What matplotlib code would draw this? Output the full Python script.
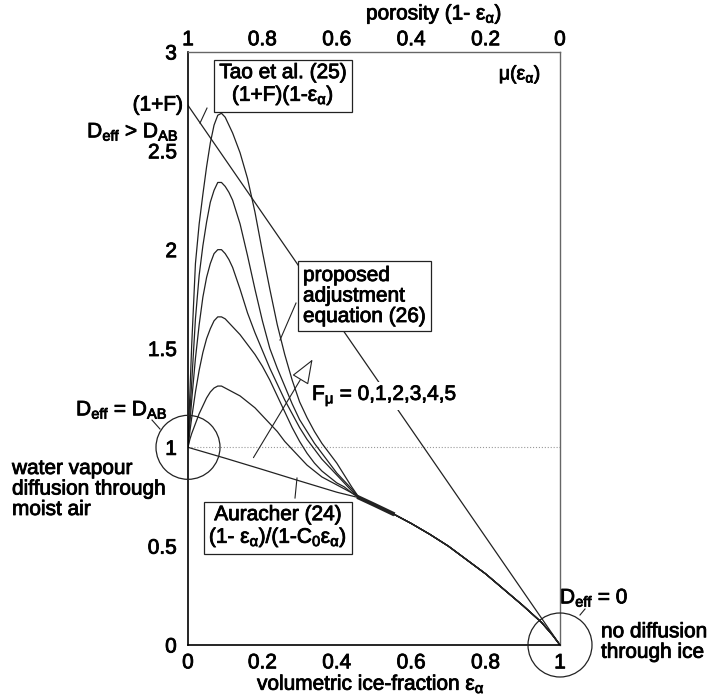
import matplotlib
matplotlib.use("Agg")
import matplotlib.pyplot as plt
import matplotlib.patheffects as pe
from matplotlib.patches import Ellipse

plt.rcParams["font.family"] = ["Liberation Sans", "DejaVu Sans"]
plt.rcParams["mathtext.fontset"] = "custom"
plt.rcParams["mathtext.rm"] = "Liberation Sans"
plt.rcParams["mathtext.it"] = "Liberation Sans:italic"
plt.rcParams["font.size"] = 15

# ice fraction grid for the proposed curves
eps = [0, 0.005, 0.01, 0.02, 0.03, 0.04, 0.05, 0.06, 0.07, 0.08, 0.09, 0.10,
       0.11, 0.12, 0.14, 0.16, 0.18, 0.20, 0.22, 0.24, 0.26, 0.28, 0.30, 0.32,
       0.34, 0.36, 0.38, 0.40, 0.42, 0.44, 0.46]
f1 = [1, 1.04, 1.07, 1.12, 1.17, 1.21, 1.25, 1.28, 1.30, 1.31, 1.31, 1.30,
      1.29, 1.28, 1.26, 1.23, 1.20, 1.16, 1.12, 1.08, 1.03, 0.99, 0.95, 0.91,
      0.88, 0.85, 0.83, 0.81, 0.79, 0.77, 0.745]
f2 = [1, 1.08, 1.15, 1.28, 1.39, 1.48, 1.55, 1.60, 1.64, 1.66, 1.66, 1.65,
      1.63, 1.61, 1.57, 1.52, 1.47, 1.41, 1.34, 1.26, 1.18, 1.10, 1.03, 0.97,
      0.92, 0.88, 0.85, 0.82, 0.80, 0.77, 0.745]
f3 = [1, 1.12, 1.24, 1.45, 1.62, 1.76, 1.86, 1.93, 1.98, 2.00, 2.00, 1.98,
      1.95, 1.91, 1.80, 1.68, 1.58, 1.49, 1.40, 1.32, 1.24, 1.17, 1.10, 1.04,
      0.99, 0.94, 0.90, 0.86, 0.82, 0.78, 0.745]
f4 = [1, 1.17, 1.33, 1.65, 1.87, 2.02, 2.14, 2.24, 2.30, 2.34, 2.34, 2.32,
      2.29, 2.25, 2.13, 1.97, 1.80, 1.64, 1.50, 1.40, 1.31, 1.22, 1.14, 1.08,
      1.02, 0.97, 0.92, 0.87, 0.83, 0.79, 0.745]
f5 = [1, 1.27, 1.52, 1.93, 2.13, 2.28, 2.42, 2.54, 2.63, 2.68, 2.69, 2.67,
      2.63, 2.59, 2.49, 2.36, 2.19, 1.99, 1.80, 1.62, 1.47, 1.34, 1.23, 1.15,
      1.08, 1.02, 0.97, 0.92, 0.86, 0.80, 0.745]

# Auracher (24), F = 0
aur_eps = [0, 0.1, 0.2, 0.3, 0.4, 0.46]
aur_val = [1, 0.945, 0.888, 0.83, 0.773, 0.745]

# common tail of all curves
tail_eps = [0.46, 0.50, 0.55, 0.60, 0.65, 0.70, 0.75, 0.80, 0.85, 0.90, 0.95, 0.98, 1.0]
tail_val = [0.745, 0.71, 0.665, 0.615, 0.56, 0.50, 0.43, 0.36, 0.28, 0.20, 0.115, 0.05, 0.0]

# Tao et al. (25): (1+F)(1-eps)
tao_eps = [0, 1]
tao_val = [2.73, 0]

xticks = [0, 0.2, 0.4, 0.6, 0.8, 1]
xlabels = ["0", "0.2", "0.4", "0.6", "0.8", "1"]
toplabels = ["1", "0.8", "0.6", "0.4", "0.2", "0"]
yticks = [0, 0.5, 1, 1.5, 2, 2.5, 3]
ylabels = ["0", "0.5", "1", "1.5", "2", "2.5", "3"]

W, H = 718, 698
fig = plt.figure(figsize=(W / 100, H / 100), dpi=100)
ax = fig.add_axes([188 / W, 1 - 645 / H, 372 / W, 593 / H])


def px(x, y):
    return x / W, 1 - y / H


lc = "#222222"
ax.plot([0, 1], [1, 1], color="#999999", lw=0.8, ls=":", zorder=1)
ax.plot(tao_eps, tao_val, color=lc, lw=0.9, zorder=2)
for f in [f1, f2, f3, f4, f5]:
    ax.plot(eps + tail_eps, f + tail_val, color=lc, lw=0.9, zorder=2)
ax.plot(aur_eps + tail_eps, aur_val + tail_val, color=lc, lw=0.9, zorder=2)
ax.plot(tail_eps[:3], tail_val[:3], color=lc, lw=3, zorder=2)

ax.set_xlim(0, 1)
ax.set_ylim(0, 3)
ax.set_xticks(xticks)
ax.set_xticklabels(xlabels)
ax.set_yticks(yticks)
ax.set_yticklabels(ylabels)
ax.tick_params(length=0, pad=8)
ax.tick_params(axis="x", pad=6)
for s in ["left", "bottom"]:
    ax.spines[s].set_color("black")
    ax.spines[s].set_linewidth(1.2)
for s in ["top", "right"]:
    ax.spines[s].set_color("#666666")
    ax.spines[s].set_linewidth(1.0)

top = ax.secondary_xaxis("top")
top.set_xticks(xticks)
top.set_xticklabels(toplabels)
top.tick_params(length=0, pad=2)
top.spines["top"].set_visible(False)

# circles at (0,1) and (1,0)
rx, ry = 32 / 372, 32 / 197.7
for cx, cy in [(0, 1), (1, 0)]:
    ax.add_patch(Ellipse((cx, cy), 2 * rx, 2 * ry, fill=False, ec=lc, lw=0.9,
                         clip_on=False, zorder=3))

box = dict(boxstyle="square,pad=0.25", fc="white", ec=lc, lw=0.9)

fig.text(*px(366, 14), "porosity (1- ε$_{\\mathrm{α}}$)", ha="left", va="center")
fig.text(*px(257, 684), "volumetric ice-fraction ε$_{\\mathrm{α}}$", ha="left", va="center")
fig.text(*px(520, 75), "μ(ε$_{\\mathrm{α}}$)", ha="center", va="center", fontsize=14)
fig.text(*px(183, 105), "(1+F)", ha="right", va="center")
fig.text(*px(179, 132), "D$_{\\mathrm{eff}}$ > D$_{\\mathrm{AB}}$", ha="right", va="center")
fig.text(*px(122, 410), "D$_{\\mathrm{eff}}$ = D$_{\\mathrm{AB}}$", ha="center", va="center")
fig.text(*px(12, 489), "water vapour\ndiffusion through\nmoist air", ha="left",
         va="center", linespacing=1.1)
fig.text(*px(560, 598), "D$_{\\mathrm{eff}}$ = 0", ha="left", va="center")
fig.text(*px(601, 642), "no diffusion\nthrough ice", ha="left", va="center",
         linespacing=1.1)

fig.text(*px(283, 85), "Tao et al. (25)\n(1+F)(1-ε$_{\\mathrm{α}}$)", ha="center",
         va="center", bbox=box, linespacing=1.1, zorder=5)
fig.text(*px(303, 296), "proposed\nadjustment\nequation (26)", ha="left",
         va="center", bbox=box, linespacing=1.1, zorder=5)
fig.text(*px(278, 527), "Auracher (24)\n(1- ε$_{\\mathrm{α}}$)/(1-C$_{\\mathrm{0}}$ε$_{\\mathrm{α}}$)",
         ha="center", va="center", bbox=box, linespacing=1.1, zorder=5)
fig.text(*px(312, 396), "F$_{\\mathrm{μ}}$ = 0,1,2,3,4,5", ha="left", va="center",
         bbox=dict(boxstyle="square,pad=0.1", fc="white", ec="none"), zorder=5)


def d(x, y):
    return (x - 188) / 372, (645 - y) / 197.7


# leader lines
for (x0, y0), (x1, y1) in [((207, 108), (200, 123)), ((296, 303), (280, 340)),
                           ((295, 498), (297, 478)), ((152, 420), (160, 429)),
                           ((580, 615), (585, 609))]:
    ax.plot(*zip(d(x0, y0), d(x1, y1)), color=lc, lw=0.8, clip_on=False, zorder=4)

ax.annotate("", xy=d(314, 357), xytext=d(252, 460),
            arrowprops=dict(arrowstyle="-|>,head_length=1.3,head_width=0.5",
                            mutation_scale=12, fc="white", ec=lc, lw=0.8), zorder=4)

# heavier strokes, like the printed original
stroke = [pe.withStroke(linewidth=0.6, foreground="black")]
for t in fig.texts + ax.get_xticklabels() + ax.get_yticklabels() + top.get_xticklabels():
    t.set_path_effects(stroke)

fig.savefig("out.png", dpi=100)
